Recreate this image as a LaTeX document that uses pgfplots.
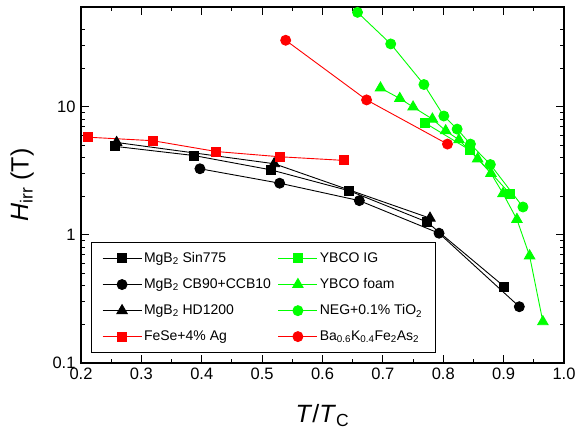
\documentclass[border=0pt]{standalone}
\usepackage{fontspec}
\setmainfont{Liberation Sans}
\usepackage{pgfplots}
\pgfplotsset{compat=1.18}
\definecolor{grn}{RGB}{0,255,0}
\definecolor{rd}{RGB}{255,0,0}
\begin{document}
\begin{tikzpicture}
\begin{axis}[name=ax, scale only axis, width=483bp, height=356bp,
  ymode=log, xmin=0.2, xmax=1.0, ymin=0.1, ymax=60,
  xtick={0.2,0.3,0.4,0.5,0.6,0.7,0.8,0.9,1.0},
  xticklabels={0.2,0.3,0.4,0.5,0.6,0.7,0.8,0.9,1.0},
  minor x tick num=1,
  ytick={0.1,1,10}, yticklabels={0.1,1,10},
  minor ytick={0.2,0.3,0.4,0.5,0.6,0.7,0.8,0.9,2,3,4,5,6,7,8,9,20,30,40},
  tick align=inside, major tick length=8bp, minor tick length=4bp,
  every tick/.style={black, line width=0.9bp},
  axis line style={line width=1.4bp},
  ticklabel style={font=\fontsize{16.5bp}{19bp}\selectfont},
  yticklabel style={xshift=-2bp},
  xticklabel style={yshift=-1bp},
  xlabel={\textit{T}/\textit{T}\textsubscript{C}},
  ylabel={\textit{H}\textsubscript{irr} (T)},
  label style={font=\fontsize{25bp}{30bp}\selectfont},
  xlabel style={at={(axis description cs:0.5,-0.148)}, anchor=center},
  ylabel style={at={(axis description cs:-0.122,0.5)}, anchor=center},
  legend columns=2, legend cell align=left,
  legend style={at={(axis description cs:0.020,0.029)}, anchor=south west,
    draw=black, line width=0.9bp, font=\fontsize{14bp}{16bp}\selectfont,
    inner xsep=11bp, inner ysep=8bp, row sep=10.5bp,
    /tikz/every even column/.append style={column sep=5bp}},
  legend image code/.code={\draw[mark repeat=2,mark phase=2] plot coordinates {(0bp,0bp) (19.5bp,0bp) (39bp,0bp)};},
]
\addplot[black, line width=0.9bp, mark=square*, mark size=4.5bp, mark options={solid}] coordinates {(0.257,4.90)(0.387,4.16)(0.514,3.22)(0.644,2.21)(0.773,1.26)(0.901,0.395)};
\addlegendentry{MgB\textsubscript{2} Sin775}
\addplot[grn, line width=0.9bp, mark=square*, mark size=4.5bp] coordinates {(0.770,7.46)(0.845,4.56)(0.911,2.08)};
\addlegendentry{YBCO IG}
\addplot[black, line width=0.9bp, mark=*, mark size=5bp] coordinates {(0.397,3.28)(0.529,2.53)(0.661,1.85)(0.793,1.03)(0.926,0.275)};
\addlegendentry{MgB\textsubscript{2} CB90+CCB10}
\addplot[grn, line width=0.9bp, mark=triangle*, mark size=6bp] coordinates {(0.696,14.0)(0.728,11.6)(0.750,9.95)(0.782,8.01)(0.804,6.49)(0.826,5.52)(0.857,3.92)(0.879,3.02)(0.899,2.10)(0.922,1.32)(0.943,0.686)(0.965,0.210)};
\addlegendentry{YBCO foam}
\addplot[black, line width=0.9bp, mark=triangle*, mark size=6bp] coordinates {(0.259,5.26)(0.520,3.59)(0.778,1.35)};
\addlegendentry{MgB\textsubscript{2} HD1200}
\addplot[grn, line width=0.9bp, mark=*, mark size=5bp] coordinates {(0.658,54.5)(0.713,30.9)(0.768,14.9)(0.801,8.46)(0.823,6.69)(0.845,5.11)(0.878,3.54)(0.932,1.65)};
\addlegendentry{NEG+0.1\% TiO\textsubscript{2}}
\addplot[rd, line width=0.9bp, mark=square*, mark size=4.5bp] coordinates {(0.212,5.78)(0.319,5.43)(0.424,4.47)(0.529,4.07)(0.636,3.81)};
\addlegendentry{FeSe+4\% Ag}
\addplot[rd, line width=0.9bp, mark=*, mark size=5bp] coordinates {(0.539,33.0)(0.673,11.3)(0.807,5.11)};
\addlegendentry{Ba\textsubscript{0.6}K\textsubscript{0.4}Fe\textsubscript{2}As\textsubscript{2}}
\end{axis}
\pgfresetboundingbox
\path ([shift={(-81bp,-73bp)}]ax.south west) rectangle ([shift={(14bp,7bp)}]ax.north east);
\end{tikzpicture}
\end{document}
